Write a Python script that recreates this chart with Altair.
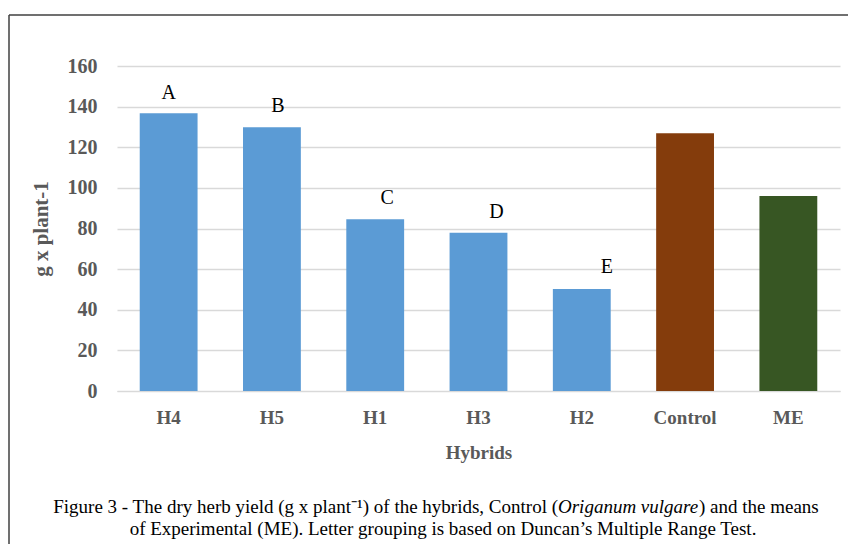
import altair as alt
import pandas as pd

categories = ["H4", "H5", "H1", "H3", "H2", "Control", "ME"]
values = [136.7, 129.8, 84.5, 77.9, 50.2, 126.9, 96.0]
bar_colors = ["#5B9BD5", "#5B9BD5", "#5B9BD5", "#5B9BD5", "#5B9BD5", "#843C0C", "#375623"]
letters = ["A", "B", "C", "D", "E"]
letter_cats = ["H4", "H5", "H1", "H3", "H2"]
letter_y = [146.7, 140.3, 95.0, 88.1, 61.0]
letter_dx = [0, 6, 12, 18, 25]

caption1_parts = ["Figure 3 - The dry herb yield (g x plant\u207b\u00b9) of the hybrids, Control (",
                  "Origanum vulgare", ") and the means"]
caption2 = "of Experimental (ME). Letter grouping is based on Duncan\u2019s Multiple Range Test."

df = pd.DataFrame({"cat": categories, "val": values})
ldf = pd.DataFrame({"cat": letter_cats, "letter": letters, "ly": letter_y})

FONT = "Liberation Serif"
W, H = 723, 325
CAP = 19

xenc = alt.X("cat:N", sort=categories, title="Hybrids",
             scale=alt.Scale(paddingInner=0.44, paddingOuter=0.22),
             axis=alt.Axis(labelAngle=0, labelFont=FONT, labelFontSize=19, labelFontWeight="bold",
                           labelColor="#595959", labelPadding=17, ticks=False, domainColor="#D9D9D9",
                           titleFont=FONT, titleFontSize=19, titleFontWeight="bold", titleColor="#595959",
                           titlePadding=16))
yscale = alt.Scale(domain=[0, 160])

bars = alt.Chart(df).mark_bar().encode(
    x=xenc,
    y=alt.Y("val:Q", scale=yscale, title="g x plant-1",
            axis=alt.Axis(values=list(range(0, 161, 20)), labelFont=FONT, labelFontSize=20,
                          labelFontWeight="bold", labelColor="#595959", labelPadding=20, ticks=False,
                          domain=False, gridColor="#D9D9D9", gridWidth=1.3,
                          titleFont=FONT, titleFontSize=21, titleFontWeight="bold", titleColor="#595959",
                          titlePadding=16)),
    color=alt.Color("cat:N", scale=alt.Scale(domain=categories, range=bar_colors), legend=None),
)

layers = [bars]
for i in range(len(letters)):
    sub = ldf.iloc[[i]]
    layers.append(
        alt.Chart(sub).mark_text(font=FONT, fontSize=20, color="black", baseline="middle", dx=letter_dx[i])
        .encode(x=alt.X("cat:N", sort=categories), y=alt.Y("ly:Q", scale=yscale), text="letter:N")
    )

Y1, Y2 = 447, 469
piece_layout = [(441, "right", "normal"), (441, "left", "italic"), (582, "left", "normal")]
for txt, (px, al, st) in zip(caption1_parts, piece_layout):
    layers.append(alt.Chart(pd.DataFrame({"t": [txt]}))
                  .mark_text(font=FONT, fontSize=CAP, align=al, baseline="alphabetic", color="black",
                             fontStyle=st)
                  .encode(x=alt.value(px), y=alt.value(Y1), text="t:N"))
layers.append(alt.Chart(pd.DataFrame({"t": [caption2]}))
              .mark_text(font=FONT, fontSize=CAP, align="center", baseline="alphabetic", color="black")
              .encode(x=alt.value(326), y=alt.value(Y2), text="t:N"))

# outer frame lines
frame = alt.Chart(pd.DataFrame({"k": [0]}))
layers.append(frame.mark_rule(color="#404040", strokeWidth=1.5)
              .encode(x=alt.value(-108), x2=alt.value(760), y=alt.value(-51)))
layers.append(frame.mark_rule(color="#404040", strokeWidth=1.5)
              .encode(x=alt.value(-108), y=alt.value(-51), y2=alt.value(500)))

chart = alt.layer(*layers).properties(
    width=W, height=H,
    autosize=alt.AutoSizeParams(type="none"),
    padding={"left": 109, "top": 58, "right": 8, "bottom": 153},
    background="white",
).configure_view(stroke=None)

chart.save("out.html", embed_options={"renderer": "svg", "actions": False})
